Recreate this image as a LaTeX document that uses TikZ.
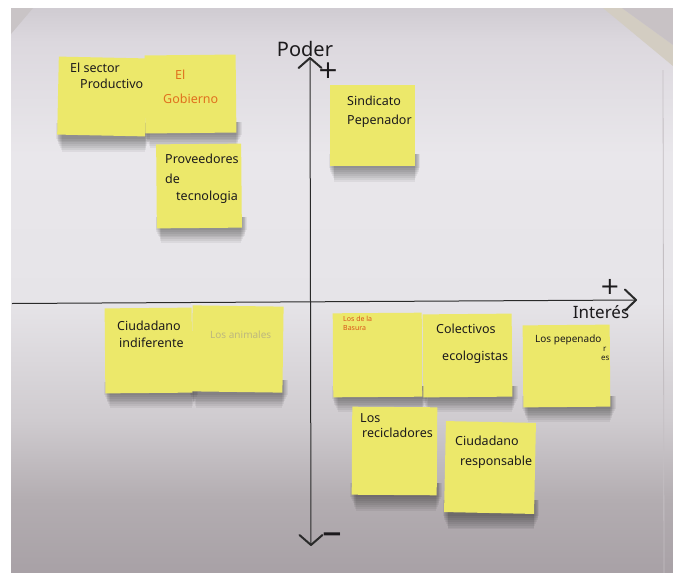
\documentclass[tikz,border=0pt]{standalone}
\usepackage{fontspec}
\setmainfont{Noto Sans}
\newfontfamily\markfont{DejaVu Sans}
\usetikzlibrary{arrows.meta,calc}

% board and paper colours
\definecolor{bdA}{HTML}{A8A1A6}
\definecolor{bdB}{HTML}{B3ADB1}
\definecolor{bdC}{HTML}{CFCBCF}
\definecolor{bdD}{HTML}{E6E4E8}
\definecolor{bdE}{HTML}{E9E7EB}
\definecolor{bdF}{HTML}{DCD8DE}
\definecolor{bdG}{HTML}{D0CCD2}
\definecolor{wallA}{HTML}{C9C4C6}
\definecolor{wallB}{HTML}{D3CDC2}
\definecolor{wallC}{HTML}{C8C2C5}
\definecolor{edge}{HTML}{C4BFC3}
\definecolor{postit}{HTML}{ECE86A}
\definecolor{ink}{HTML}{1C1A1C}
\definecolor{axisink}{HTML}{2A2A2A}
\definecolor{orangeink}{HTML}{E0701E}
\definecolor{redink}{HTML}{D9541A}
\definecolor{paleink}{HTML}{BDB77E}

% whiteboard: lighter in the middle, darker towards the floor
\pgfdeclareverticalshading{boardshade}{100bp}{%
  color(0bp)=(bdA); color(25bp)=(bdA); color(31.5bp)=(bdB);
  color(38.5bp)=(bdC); color(49bp)=(bdD); color(62bp)=(bdE);
  color(72bp)=(bdF); color(75bp)=(bdG); color(100bp)=(bdG)}

\pgfdeclarelayer{boardlayer}
\pgfdeclarelayer{shadowlayer}
\pgfsetlayers{boardlayer,shadowlayer,main}

\begin{document}
\begin{tikzpicture}[x=1pt,y=-1pt,
  note/.style={rectangle, fill=postit, inner sep=0, draw=none},
  hand/.style={anchor=base west, inner sep=0, text=ink,
    font=\fontsize{12.5}{15}\selectfont},
  lbl/.style={inner sep=0, text=ink},
  axisline/.style={draw=axisink, line width=1pt},
  barb/.tip={Straight Barb[round, length=10pt, width=23pt, line width=2pt]},
]
\useasboundingbox (0,0) rectangle (673,573);

\begin{pgfonlayer}{boardlayer}
\fill[white] (0,0) rectangle (673,573);
% the board
\shade[shading=boardshade] (11,8) rectangle (673,573);
\fill[wallA] (11,8) -- (33,8) -- (11,34) -- cycle;
\fill[wallB] (603,8) -- (622,8) -- (673,45) -- (673,66) -- cycle;
\fill[wallC] (622,8) -- (673,8) -- (673,45) -- cycle;
\draw[edge, line width=0.8pt] (663,70) -- (664,573);
\end{pgfonlayer}

% axes
\coordinate (ytop) at (310,57);
\coordinate (ybot) at (311,546);
\coordinate (xleft) at (12,303.5);
\coordinate (xright) at (637,300);
\draw[axisline, barb-barb] (ybot) -- (ytop);
\draw[axisline, -{Straight Barb[round, length=11pt, width=21pt, line width=2pt]}] (xleft) -- (xright);

\node[lbl, anchor=base, font=\fontsize{20}{24}\selectfont] (poder) at (305,56) {Poder};
\node[lbl, font=\markfont\fontsize{25}{28}\selectfont] (pplus) at (328,71) {+};
\node[lbl, font=\markfont\fontsize{24}{28}\selectfont] (iplus) at (610,287) {+};
\node[lbl, anchor=base, font=\fontsize{17}{20}\selectfont] (interes) at (601,318) {Interés};
\node[lbl, font=\markfont\bfseries\fontsize{26}{28}\selectfont] (minus) at (332,538) {−};

% sticky notes, upper left
\node[note, minimum width=88, minimum height=78, rotate=-1.2] (n1) at (102,96.5) {};
\node[note, minimum width=91, minimum height=78, rotate=0.6] (n2) at (190.5,94) {};
\node[note, minimum width=85, minimum height=84, rotate=0.5] (n3) at (199,186) {};
\node[hand] (t1a) at (70,72) {El sector};
\node[hand] (t1b) at (80,88) {Productivo};
\node[hand, text=orangeink] (t2a) at (175,79) {El};
\node[hand, text=orangeink] (t2b) at (163,103) {Gobierno};
\node[hand] (t3a) at (165,163) {Proveedores};
\node[hand] (t3b) at (165,183) {de};
\node[hand] (t3c) at (176,200) {tecnologia};

% upper right
\node[note, minimum width=85, minimum height=81] (n4) at (372.5,125.5) {};
\node[hand] (t4a) at (347,105) {Sindicato};
\node[hand] (t4b) at (347,124) {Pepenador};

% lower left
\node[note, minimum width=87, minimum height=85, rotate=0.5] (n5) at (148.5,350.5) {};
\node[note, minimum width=91, minimum height=86, rotate=-0.8] (n6) at (237.5,349) {};
\node[hand] (t5a) at (117,330) {Ciudadano};
\node[hand] (t5b) at (119,347) {indiferente};
\node[hand, text=paleink, font=\fontsize{10}{12}\selectfont] (t6) at (210,338) {Los animales};

% lower right
\node[note, minimum width=89, minimum height=84, rotate=0.4] (n7) at (377.5,355) {};
\node[note, minimum width=89, minimum height=83, rotate=0.5] (n8) at (467.5,355.5) {};
\node[note, minimum width=87, minimum height=82, rotate=0.5] (n9) at (566.5,366) {};
\node[note, minimum width=85, minimum height=88, rotate=-0.4] (n10) at (394.5,451) {};
\node[note, minimum width=90, minimum height=91, rotate=-1.2] (n11) at (490,467.5) {};
\node[hand, text=redink, font=\fontsize{7}{8}\selectfont] (t7a) at (343,321) {Los de la};
\node[hand, text=redink, font=\fontsize{7}{8}\selectfont] (t7b) at (343,330) {Basura};
\node[hand] (t8a) at (436,333) {Colectivos};
\node[hand] (t8b) at (442,360) {ecologistas};
\node[hand, font=\fontsize{10}{12}\selectfont] (t9a) at (535,342) {Los pepenado};
\node[hand, font=\fontsize{8}{9}\selectfont] (t9b) at (603,351) {r};
\node[hand, font=\fontsize{8}{9}\selectfont] (t9c) at (601,360) {es};
\node[hand] (t10a) at (360,422) {Los};
\node[hand] (t10b) at (362,437) {recicladores};
\node[hand] (t11a) at (455,445) {Ciudadano};
\node[hand] (t11b) at (460,465) {responsable};

% soft shadows cast below and to the right of each note
\begin{pgfonlayer}{shadowlayer}
\foreach \n in {n1,n2,n3,n4,n5,n6,n7,n8,n9,n10,n11}{
  \foreach \k in {0,...,7}{
    \fill[black, opacity=0.055]
      ($(\n.south west)+(\k*0.8-1,-12)$) rectangle
      ($(\n.south east)+(5-\k*0.8,2+\k*1.9)$);
  }
}
\end{pgfonlayer}
\end{tikzpicture}
\end{document}
